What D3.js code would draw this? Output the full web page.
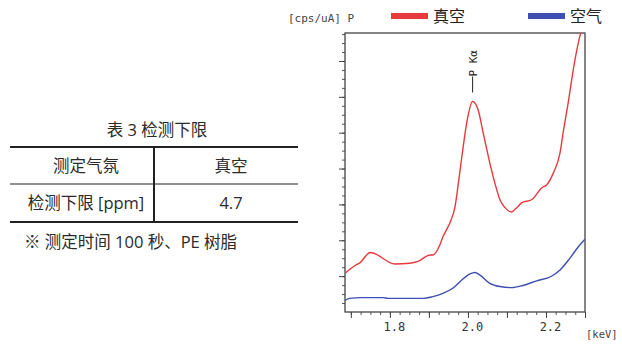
<!DOCTYPE html>
<html><head><meta charset="utf-8">
<script src="https://cdn.jsdelivr.net/npm/d3@7"></script>
<style>body{margin:0;background:#fff;}svg{display:block;}</style>
</head><body>
<svg id="c" width="622" height="345"></svg>
<script>
// Data
const redX  = [1.685,1.710,1.723,1.750,1.813,1.851,1.872,1.903,1.910,1.928,1.936,1.945,1.954,1.967,1.979,1.988,1.997,2.012,2.026,2.039,2.056,2.069,2.082,2.095,2.112,2.120,2.129,2.138,2.163,2.189,2.202,2.219,2.236,2.244,2.257,2.270,2.283,2.289];
const redY  = [1.08,1.29,1.37,1.66,1.34,1.36,1.41,1.59,1.59,1.87,2.10,2.29,2.49,2.94,3.88,4.62,5.28,5.87,5.64,5.00,4.16,3.60,3.13,2.91,2.79,2.86,2.95,3.05,3.13,3.46,3.55,3.88,4.44,5.00,5.84,6.76,7.51,7.79];
const blueX = [1.685,1.697,1.727,1.783,1.795,1.885,1.910,1.936,1.962,1.987,2.005,2.018,2.031,2.056,2.082,2.112,2.141,2.176,2.213,2.236,2.262,2.283,2.300];
const blueY = [0.32,0.38,0.40,0.40,0.38,0.38,0.43,0.52,0.67,0.92,1.06,1.10,1.03,0.80,0.71,0.68,0.74,0.87,0.99,1.17,1.51,1.82,2.03];
const xTickLabels = ["1.8","2.0","2.2"];
const seriesNames = ["真空","空气"];
const colors = ["#e8393d","#3d4fb3"];
const tableTitle = "表 3 检测下限";
const tableRows = [["测定气氛","真空"],["检测下限 [ppm]","4.7"]];
const note = "※ 测定时间 100 秒、PE 树脂";

const svg = d3.select("#c");
const L=345,R=585,T=33,B=312;
const x = d3.scaleLinear().domain([1.685,2.300]).range([L,R]);
const y = d3.scaleLinear().domain([0,7.78]).range([B,T]);
const mono = "'DejaVu Sans Mono','Liberation Mono',monospace";
const cjk = "'Open Sans','Noto Sans CJK SC',sans-serif";

const clip = svg.append("clipPath").attr("id","cl").append("rect").attr("x",L).attr("y",T).attr("width",R-L).attr("height",B-T);

// axes
const xMinor = d3.range(1.7,2.3001,0.025);
svg.append("g").attr("transform",`translate(0,${B})`)
  .call(d3.axisBottom(x).tickValues(xMinor).tickSize(3).tickFormat(""))
  .call(g=>g.select(".domain").remove())
  .call(g=>g.selectAll("line").attr("stroke","#555"));
svg.append("g").attr("transform",`translate(0,${B})`)
  .call(d3.axisBottom(x).tickValues([1.7,1.8,1.9,2.0,2.1,2.2,2.3]).tickSize(6).tickFormat(""))
  .call(g=>g.select(".domain").remove())
  .call(g=>g.selectAll("line").attr("stroke","#444"));
svg.append("g").attr("transform",`translate(0,${B})`)
  .call(d3.axisBottom(x).tickValues(xTickLabels.map(Number)).tickSize(0).tickPadding(10).tickFormat((d,i)=>xTickLabels[i]))
  .call(g=>g.select(".domain").remove())
  .call(g=>g.selectAll("text").attr("font-family",mono).attr("font-size",12).attr("fill","#333").attr("dx",4));

const yMinor = d3.range(0.25,7.78,0.25);
svg.append("g").attr("transform",`translate(${L},0)`)
  .call(d3.axisLeft(y).tickValues(yMinor).tickSize(3).tickFormat(""))
  .call(g=>g.select(".domain").remove())
  .call(g=>g.selectAll("line").attr("stroke","#555"));
svg.append("g").attr("transform",`translate(${L},0)`)
  .call(d3.axisLeft(y).tickValues(d3.range(1,8,1)).tickSize(6).tickFormat(""))
  .call(g=>g.select(".domain").remove())
  .call(g=>g.selectAll("line").attr("stroke","#444"));

// box
svg.append("rect").attr("x",L).attr("y",T).attr("width",R-L).attr("height",B-T)
  .attr("fill","none").attr("stroke","#444").attr("stroke-width",1.3);

// lines
const line = d3.line().x(d=>x(d[0])).y(d=>y(d[1])).curve(d3.curveMonotoneX);
const g = svg.append("g").attr("clip-path","url(#cl)");
g.append("path").datum(blueX.map((v,i)=>[v,blueY[i]])).attr("d",line)
  .attr("fill","none").attr("stroke",colors[1]).attr("stroke-width",1.4);
g.append("path").datum(redX.map((v,i)=>[v,redY[i]])).attr("d",line)
  .attr("fill","none").attr("stroke",colors[0]).attr("stroke-width",1.4);

// peak annotation
const px = x(2.012);
svg.append("line").attr("x1",px).attr("x2",px).attr("y1",y(5.87)-9).attr("y2",y(5.87)-25).attr("stroke","#222").attr("stroke-width",1);
svg.append("text").attr("transform",`translate(${px+4},${y(5.87)-25}) rotate(-90)`)
  .attr("font-family",mono).attr("font-size",11).attr("fill","#222").text("P Kα");

// labels
svg.append("text").attr("x",288).attr("y",22).attr("font-family",mono).attr("font-size",11).attr("fill","#444").text("[cps/uA] P");
svg.append("text").attr("x",586).attr("y",338).attr("font-family",mono).attr("font-size",10.5).attr("fill","#444").text("[keV]");

// legend
const lg = [[391,433],[528,570]];
seriesNames.forEach((n,i)=>{
  svg.append("rect").attr("x",lg[i][0]).attr("y",13).attr("width",37).attr("height",6).attr("fill",colors[i]);
  svg.append("text").attr("x",lg[i][1]).attr("y",22).attr("font-family",cjk).attr("font-size",16).attr("fill","#222").text(n);
});

// table
svg.append("text").attr("x",157).attr("y",136).attr("text-anchor","middle").attr("font-family",cjk).attr("font-size",16.5).attr("fill","#2a2a2a").text(tableTitle);
const rowY=[147,184,222];
svg.append("line").attr("x1",10).attr("x2",298).attr("y1",rowY[0]).attr("y2",rowY[0]).attr("stroke","#222").attr("stroke-width",2);
svg.append("line").attr("x1",10).attr("x2",298).attr("y1",rowY[1]).attr("y2",rowY[1]).attr("stroke","#222").attr("stroke-width",1);
svg.append("line").attr("x1",10).attr("x2",298).attr("y1",rowY[2]).attr("y2",rowY[2]).attr("stroke","#222").attr("stroke-width",2);
svg.append("line").attr("x1",154).attr("x2",154).attr("y1",rowY[0]).attr("y2",rowY[2]).attr("stroke","#222").attr("stroke-width",2);
const colX=[86,231];
tableRows.forEach((r,ri)=>{
  r.forEach((c,ci)=>{
    svg.append("text").attr("x",colX[ci]).attr("y",(rowY[ri]+rowY[ri+1])/2+6).attr("text-anchor","middle")
      .attr("font-family",cjk).attr("font-size",16.5).attr("fill","#2a2a2a").text(c);
  });
});
svg.append("text").attr("x",24).attr("y",248).attr("font-family",cjk).attr("font-size",16.5).attr("fill","#2a2a2a").text(note);
</script>
</body></html>
